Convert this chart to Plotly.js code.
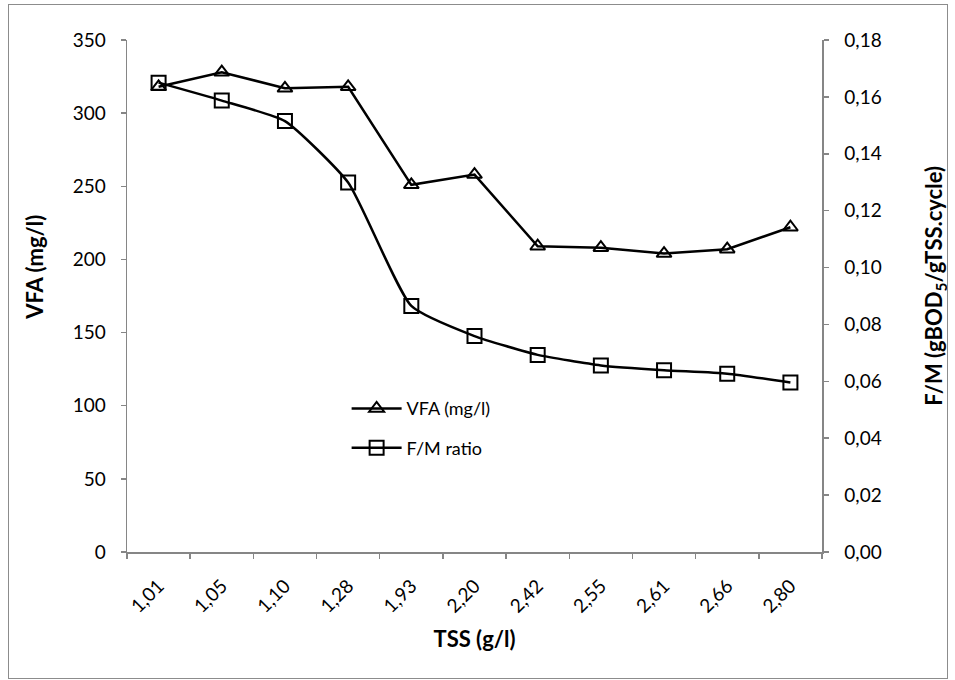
<!DOCTYPE html>
<html>
<head>
<meta charset="utf-8">
<script src="https://cdn.plot.ly/plotly-3.0.1.min.js"></script>
<style>
  html, body { margin: 0; padding: 0; background: #fff; }
  #wrap { position: relative; width: 955px; height: 680px; }
  #chart { position: absolute; left: 0; top: 0; width: 955px; height: 680px; }
  #frame { position: absolute; left: 8px; top: 4px; width: 940px; height: 675px;
           border: 1px solid #8c8c8c; box-sizing: border-box; pointer-events: none; }
</style>
</head>
<body>
<div id="wrap">
  <div id="chart"></div>
  <div id="frame"></div>
</div>
<script>
const tssLabels = ["1,01", "1,05", "1,10", "1,28", "1,93", "2,20", "2,42", "2,55", "2,61", "2,66", "2,80"];
const vfaValues = [318, 328, 317, 318, 251, 258, 209, 208, 204, 207, 222];
const fmValues = [0.165, 0.1587, 0.1515, 0.1299, 0.0865, 0.0759, 0.0693, 0.0656, 0.0639, 0.0627, 0.0596];
const vfaTicks = [0, 50, 100, 150, 200, 250, 300, 350];

const fontFam = "Lato, 'Open Sans', sans-serif";
const axisGrey = "#868686";
const tickSize = 19;
const titleSize = 22;

const traces = [
  {
    x: tssLabels, y: vfaValues, name: "VFA (mg/l)", type: "scatter", mode: "lines+markers",
    yaxis: "y", legendgroup: "a",
    line: { color: "#000", width: 2.5 },
    marker: { symbol: "triangle-up-open", size: 13, color: "#000", line: { width: 2, color: "#000" } }
  },
  {
    x: tssLabels, y: fmValues, name: "F/M ratio", type: "scatter", mode: "lines+markers",
    yaxis: "y2", legendgroup: "b",
    line: { color: "#000", width: 2.5, shape: "spline", smoothing: 0.5 },
    marker: { symbol: "square-open", size: 14, color: "#000", line: { width: 2, color: "#000" } }
  }
];

const layout = {
  width: 955, height: 680,
  margin: { l: 127, r: 133, t: 40, b: 128 },
  paper_bgcolor: "#fff", plot_bgcolor: "#fff",
  separators: ", ",
  font: { family: fontFam, size: tickSize, color: "#000" },
  showlegend: true,
  legend: {
    x: 0.316, y: 0.316, xanchor: "left", yanchor: "top",
    bgcolor: "rgba(0,0,0,0)", tracegroupgap: 13, itemwidth: 50,
    font: { family: fontFam, size: 18, color: "#000" }
  },
  xaxis: {
    type: "category",
    range: [-0.5, 10.5],
    showline: true, linecolor: axisGrey, linewidth: 1.5,
    ticks: "outside", tickson: "boundaries", ticklen: 5, tickcolor: axisGrey, tickwidth: 1.5,
    tickangle: -45, showgrid: false, zeroline: false, ticklabelstandoff: 14,
    tickfont: { family: fontFam, size: tickSize, color: "#000" },
    title: { text: "<b>TSS (g/l)</b>", font: { family: fontFam, size: titleSize, color: "#000" }, standoff: 16 }
  },
  yaxis: {
    range: [0, 350], tickvals: vfaTicks,
    showline: true, linecolor: axisGrey, linewidth: 1.5,
    ticks: "outside", ticklen: 5, tickcolor: axisGrey, tickwidth: 1.5,
    showgrid: false, zeroline: false, ticklabelstandoff: 11,
    tickfont: { family: fontFam, size: tickSize, color: "#000" }
  },
  yaxis2: {
    overlaying: "y", side: "right",
    range: [0, 0.18], dtick: 0.02, tick0: 0, tickformat: ".2f",
    showline: true, linecolor: axisGrey, linewidth: 1.5,
    ticks: "outside", ticklen: 5, tickcolor: axisGrey, tickwidth: 1.5,
    showgrid: false, zeroline: false, ticklabelstandoff: 12,
    tickfont: { family: fontFam, size: tickSize, color: "#000" }
  },
  annotations: [
    {
      text: "<b>VFA (mg/l)</b>", xref: "paper", yref: "paper",
      x: -0.1324, y: 0.557, xanchor: "center", yanchor: "middle",
      textangle: -90, showarrow: false,
      font: { family: fontFam, size: titleSize, color: "#000" }
    },
    {
      text: "<b>F/M (gBOD<sub>5</sub>/gTSS.cycle)</b>", xref: "paper", yref: "paper",
      x: 1.1626, y: 0.52, xanchor: "center", yanchor: "middle",
      textangle: -90, showarrow: false,
      font: { family: fontFam, size: titleSize, color: "#000" }
    }
  ]
};

Plotly.newPlot("chart", traces, layout, { displayModeBar: false, staticPlot: true });
</script>
</body>
</html>
